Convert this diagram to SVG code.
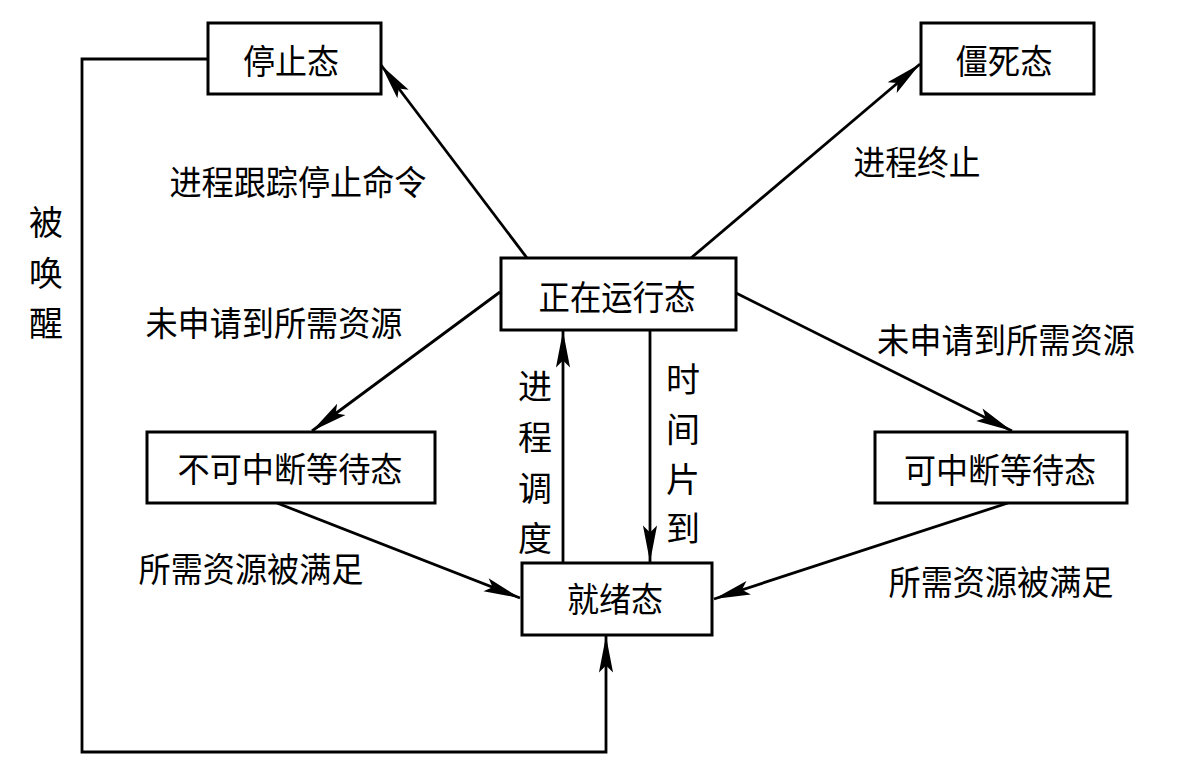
<svg xmlns="http://www.w3.org/2000/svg" width="1195" height="772" viewBox="0 0 1195 772">
<defs>
<style>
.box{fill:#fff;stroke:#000;stroke-width:3}
.t{font-family:"Noto Sans CJK SC","Noto Sans CJK TC",sans-serif;font-size:34px;fill:#000;text-anchor:middle;dominant-baseline:central}
.c{fill:none;stroke:#000;stroke-width:2.8}
</style>
<marker id="arr" markerUnits="userSpaceOnUse" orient="auto" refX="0" refY="0" markerWidth="40" markerHeight="20" viewBox="-32 -8 34 16" overflow="visible">
<path d="M0,0 L-31,-6 L-25,0 L-31,6 Z" fill="#000"/>
</marker>
</defs>
<rect width="1195" height="772" fill="#fff"/>
<g id="connectors">
<line class="c" x1="527" y1="258" x2="381" y2="65" marker-end="url(#arr)"/>
<line class="c" x1="691" y1="258" x2="920" y2="64" marker-end="url(#arr)"/>
<line class="c" x1="500" y1="292" x2="312" y2="431" marker-end="url(#arr)"/>
<line class="c" x1="736" y1="293" x2="1012" y2="431" marker-end="url(#arr)"/>
<line class="c" x1="563" y1="563" x2="563" y2="331" marker-end="url(#arr)"/>
<line class="c" x1="650" y1="330" x2="650" y2="562" marker-end="url(#arr)"/>
<line class="c" x1="277" y1="503" x2="520" y2="598" marker-end="url(#arr)"/>
<line class="c" x1="1008" y1="503" x2="714" y2="599" marker-end="url(#arr)"/>
<polyline class="c" points="208,59 82,59 82,752 606,752 606,636" marker-end="url(#arr)"/>
<text class="t" x="298" y="180" textLength="257" lengthAdjust="spacingAndGlyphs">进程跟踪停止命令</text>
<text class="t" x="917" y="160" textLength="127" lengthAdjust="spacingAndGlyphs">进程终止</text>
<text class="t" x="274" y="321" textLength="257" lengthAdjust="spacingAndGlyphs">未申请到所需资源</text>
<text class="t" x="1006" y="338" textLength="258" lengthAdjust="spacingAndGlyphs">未申请到所需资源</text>
<text class="t" x="251" y="567" textLength="225" lengthAdjust="spacingAndGlyphs">所需资源被满足</text>
<text class="t" x="1001" y="580" textLength="225" lengthAdjust="spacingAndGlyphs">所需资源被满足</text>
<text class="t" x="46" y="220">被</text>
<text class="t" x="46" y="271">唤</text>
<text class="t" x="46" y="321">醒</text>
<text class="t" x="535" y="384">进</text>
<text class="t" x="535" y="435">程</text>
<text class="t" x="535" y="486">调</text>
<text class="t" x="535" y="536">度</text>
<text class="t" x="683" y="377">时</text>
<text class="t" x="683" y="427">间</text>
<text class="t" x="683" y="477">片</text>
<text class="t" x="683" y="526">到</text>
</g>
<g id="stopped">
<rect class="box" x="208" y="23" width="173" height="71"/>
<text class="t" x="291" y="59" textLength="96" lengthAdjust="spacingAndGlyphs">停止态</text>
</g>
<g id="zombie">
<rect class="box" x="921" y="23" width="173" height="71"/>
<text class="t" x="1004" y="59" textLength="97" lengthAdjust="spacingAndGlyphs">僵死态</text>
</g>
<g id="running">
<rect class="box" x="501" y="258" width="235" height="72"/>
<text class="t" x="617" y="295" textLength="157" lengthAdjust="spacingAndGlyphs">正在运行态</text>
</g>
<g id="uninterruptible">
<rect class="box" x="147" y="432" width="288" height="71"/>
<text class="t" x="290" y="467" textLength="225" lengthAdjust="spacingAndGlyphs">不可中断等待态</text>
</g>
<g id="interruptible">
<rect class="box" x="875" y="432" width="252" height="71"/>
<text class="t" x="1000" y="468" textLength="192" lengthAdjust="spacingAndGlyphs">可中断等待态</text>
</g>
<g id="ready">
<rect class="box" x="522" y="563" width="190" height="72"/>
<text class="t" x="615" y="597" textLength="96" lengthAdjust="spacingAndGlyphs">就绪态</text>
</g>
</svg>
